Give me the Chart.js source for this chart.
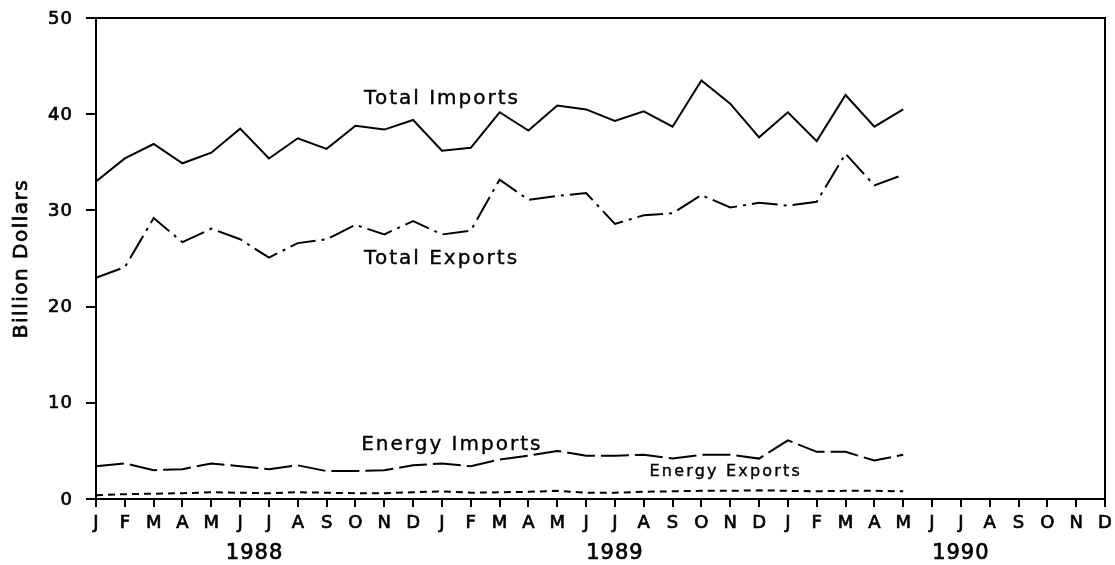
<!DOCTYPE html>
<html>
<head>
<meta charset="utf-8">
<script src="https://cdn.jsdelivr.net/npm/chart.js@4/dist/chart.umd.min.js"></script>
<style>
  html, body { margin: 0; padding: 0; background: #fff; }
  #wrap { width: 1115px; height: 565px; }
</style>
</head>
<body>
<div id="wrap"><canvas id="tradeChart" width="1115" height="565"></canvas></div>
<script>
// months J 1988 .. D 1990
var months = ['J','F','M','A','M','J','J','A','S','O','N','D',
              'J','F','M','A','M','J','J','A','S','O','N','D',
              'J','F','M','A','M','J','J','A','S','O','N','D'];

// year captions, placed under the month index they are centred on
var years = ['1988', '1989', '1990'];
var yearAt = [5.5, 18, 30];

// billion dollars, Jan 1988 .. May 1990
var totalImports = [33.0, 35.4, 36.9, 34.9, 36.0, 38.5, 35.4, 37.5, 36.4, 38.8, 38.4, 39.4,
                    36.2, 36.5, 40.2, 38.3, 40.9, 40.5, 39.3, 40.3, 38.7, 43.5, 41.1, 37.6,
                    40.2, 37.2, 42.0, 38.7, 40.5];
var totalExports = [23.0, 24.1, 29.2, 26.7, 28.1, 27.0, 25.1, 26.6, 27.0, 28.5, 27.5, 28.9,
                    27.5, 27.9, 33.2, 31.1, 31.5, 31.8, 28.6, 29.5, 29.7, 31.6, 30.3, 30.8,
                    30.5, 30.9, 35.9, 32.6, 33.7];
var energyImports = [3.4, 3.7, 3.0, 3.1, 3.7, 3.4, 3.1, 3.5, 2.9, 2.9, 3.0, 3.5,
                     3.7, 3.4, 4.1, 4.5, 5.0, 4.5, 4.5, 4.6, 4.2, 4.6, 4.6, 4.2,
                     6.1, 4.9, 4.9, 4.0, 4.6];
var energyExports = [0.4, 0.5, 0.55, 0.6, 0.7, 0.65, 0.6, 0.7, 0.65, 0.6, 0.6, 0.7,
                     0.8, 0.65, 0.7, 0.75, 0.85, 0.65, 0.65, 0.75, 0.8, 0.85, 0.85, 0.9,
                     0.85, 0.8, 0.85, 0.85, 0.8];

var yTicks = [0, 10, 20, 30, 40, 50];

// inline series captions: [text, month index of left edge, value at centre, font size, spacing]
var captions = [
    ['Total Imports', 9.3, 41.6, 20, 2],
    ['Total Exports', 9.3, 25.0, 20, 2],
    ['Energy Imports', 9.2, 5.6, 20, 2],
    ['Energy Exports', 19.2, 2.8, 16, 2.2]
];

var FONT = '"DejaVu Sans", sans-serif';

// fill plus a thin stroke, so the text has the weight of the printed original
function heavyText(ctx, txt, x, y) {
    ctx.fillText(txt, x, y);
    ctx.strokeText(txt, x, y);
}

// frame, tick labels, year row, axis title, inline captions
var extrasPlugin = {
    id: 'extras',
    afterDraw: function(chart) {
        var ctx = chart.ctx;
        var area = chart.chartArea;
        var xs = chart.scales.x, ys = chart.scales.y;

        ctx.save();
        ctx.strokeStyle = '#000';
        ctx.lineWidth = 2;
        ctx.beginPath();
        ctx.moveTo(area.left, area.top);
        ctx.lineTo(area.right, area.top);
        ctx.lineTo(area.right, area.bottom);
        ctx.stroke();

        ctx.fillStyle = '#000';
        ctx.lineWidth = 0.7;

        // y tick labels
        ctx.font = '18px ' + FONT;
        ctx.letterSpacing = '1px';
        ctx.textAlign = 'right';
        ctx.textBaseline = 'middle';
        yTicks.forEach(function(v) {
            heavyText(ctx, String(v), area.left - 23, ys.getPixelForValue(v) + 1);
        });

        // month letters
        ctx.textAlign = 'center';
        ctx.textBaseline = 'alphabetic';
        ctx.letterSpacing = '0px';
        months.forEach(function(m, i) {
            heavyText(ctx, m, xs.getPixelForValue(i), 528);
        });

        // years
        ctx.font = '21px ' + FONT;
        ctx.letterSpacing = '1px';
        years.forEach(function(y, i) {
            heavyText(ctx, y, xs.getPixelForValue(yearAt[i]), 559);
        });

        // axis title
        ctx.save();
        ctx.translate(22, (area.top + area.bottom) / 2);
        ctx.rotate(-Math.PI / 2);
        ctx.font = '20px ' + FONT;
        ctx.letterSpacing = '1.5px';
        ctx.textBaseline = 'middle';
        heavyText(ctx, 'Billion Dollars', 0, 0);
        ctx.restore();

        ctx.textAlign = 'left';
        ctx.textBaseline = 'middle';
        ctx.lineWidth = 0.4;
        captions.forEach(function(c) {
            ctx.font = c[3] + 'px ' + FONT;
            ctx.letterSpacing = c[4] + 'px';
            heavyText(ctx, c[0], xs.getPixelForValue(c[1]), ys.getPixelForValue(c[2]));
        });
        ctx.restore();
    }
};

function line(data, dash) {
    return {
        data: data,
        borderColor: '#000',
        borderWidth: 2,
        borderDash: dash,
        pointRadius: 0,
        tension: 0,
        fill: false
    };
}

new Chart(document.getElementById('tradeChart').getContext('2d'), {
    type: 'line',
    data: {
        labels: months,
        datasets: [
            line(totalImports, []),
            line(totalExports, [26, 6, 3, 6]),
            line(energyImports, [28, 6]),
            line(energyExports, [7, 5])
        ]
    },
    options: {
        responsive: false,
        animation: false,
        layout: { padding: { top: 18, right: 10, left: 0, bottom: 0 } },
        plugins: {
            legend: { display: false },
            tooltip: { enabled: false }
        },
        scales: {
            x: {
                offset: false,
                afterFit: function(scale) { scale.height = 66; },
                border: { display: true, color: '#000', width: 2 },
                grid: { drawOnChartArea: false, drawTicks: true, tickLength: 8, color: '#000', lineWidth: 2 },
                ticks: { display: false, autoSkip: false, maxRotation: 0 }
            },
            y: {
                min: 0,
                max: 50,
                afterFit: function(scale) { scale.width = 96; },
                afterBuildTicks: function(scale) {
                    scale.ticks = yTicks.map(function(v) { return { value: v }; });
                },
                border: { display: true, color: '#000', width: 2 },
                grid: { drawOnChartArea: false, drawTicks: true, tickLength: 10, color: '#000', lineWidth: 2 },
                ticks: { display: false }
            }
        }
    },
    plugins: [extrasPlugin]
});
</script>
</body>
</html>
